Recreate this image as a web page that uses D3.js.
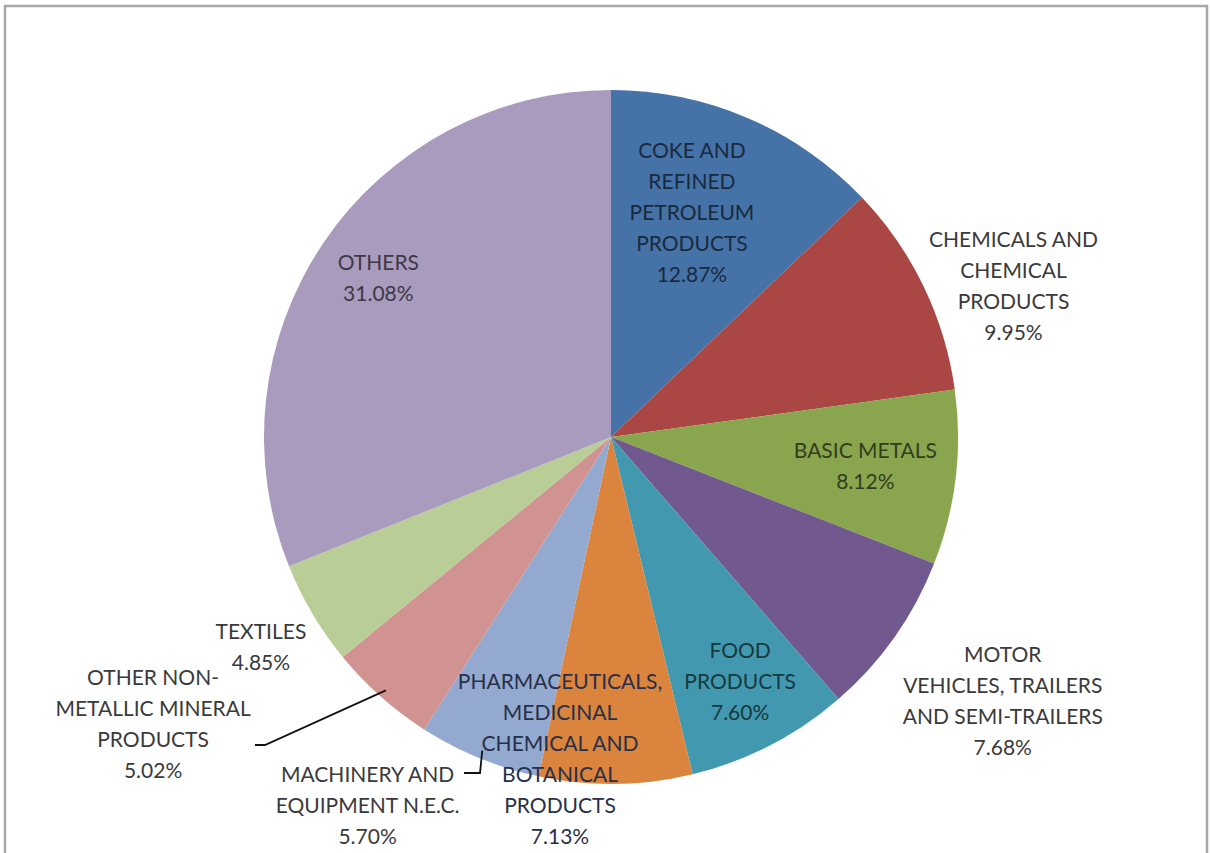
<!DOCTYPE html>
<html>
<head>
<meta charset="utf-8">
<script src="https://cdn.jsdelivr.net/npm/d3@7"></script>
<style>
  body { margin: 0; background: #fff; }
  text { font-family: Lato, "Open Sans", sans-serif; font-size: 21px; }
</style>
</head>
<body>
<aside></aside>
<script>
const width = 1210;
const height = 853;

// data, clockwise from 12 o'clock
const categories = [
    ['COKE AND', 'REFINED', 'PETROLEUM', 'PRODUCTS'],
    ['CHEMICALS AND', 'CHEMICAL', 'PRODUCTS'],
    ['BASIC METALS'],
    ['MOTOR', 'VEHICLES, TRAILERS', 'AND SEMI-TRAILERS'],
    ['FOOD', 'PRODUCTS'],
    ['PHARMACEUTICALS,', 'MEDICINAL', 'CHEMICAL AND', 'BOTANICAL', 'PRODUCTS'],
    ['MACHINERY AND', 'EQUIPMENT N.E.C.'],
    ['OTHER NON-', 'METALLIC MINERAL', 'PRODUCTS'],
    ['TEXTILES'],
    ['OTHERS']
];
const shares = [12.87, 9.95, 8.12, 7.68, 7.60, 7.13, 5.70, 5.02, 4.85, 31.08];
const colors = ['#4572A7', '#AA4643', '#89A54E', '#71588F', '#4198AF',
                '#DB843D', '#93A9CF', '#D19392', '#B9CD96', '#A99BBD'];

// label placement: [angle in degrees clockwise from top, distance from centre, inside?]
const labelPlace = [
    [19.8, 239, true], [69.4, 430, false], [96.4, 256, true], [123.9, 472, false],
    [152.1, 276, true], [189.0, 326, false], [213.5, 441, false], [238.0, 540, false],
    [239.1, 408, false], [304.4, 282, true]
];

const cx = 611, cy = 437, radius = 347, lineH = 31;

const svg = d3.select('aside')
    .append('svg')
    .attr('width', width)
    .attr('height', height);

svg.append('rect')
    .attr('x', 5).attr('y', 6)
    .attr('width', 1202).attr('height', 900)
    .attr('fill', '#fff')
    .attr('stroke', '#a8a8a8')
    .attr('stroke-width', 2.5);

const data = shares.map((v, i) => ({ value: v, lines: categories[i], color: colors[i], place: labelPlace[i] }));

const pie = d3.pie().sort(null).value(d => d.value);
const arc = d3.arc().innerRadius(0).outerRadius(radius);
const arcs = pie(data);

const g = svg.append('g').attr('transform', `translate(${cx},${cy})`);

g.selectAll('path')
    .data(arcs)
    .join('path')
    .attr('d', arc)
    .attr('fill', d => d.data.color);

// leader lines for the two small slices labelled outside
const leaders = [
    { i: 7, elbow: [-346, 308], end: [-356, 308] },
    { i: 6, elbow: [-131, 336], end: [-147, 336] }
];
const edge = d3.arc().innerRadius(radius - 8).outerRadius(radius - 8);
leaders.forEach(l => {
    const p = edge.centroid(arcs[l.i]);
    g.append('path')
        .attr('d', d3.line()([p, l.elbow, l.end]))
        .attr('fill', 'none')
        .attr('stroke', '#111')
        .attr('stroke-width', 1.8);
});

arcs.forEach((a, i) => {
    const [ang, r, inside] = a.data.place;
    const t = ang * Math.PI / 180;
    const x = r * Math.sin(t);
    const y = -r * Math.cos(t);
    const lines = a.data.lines.concat([a.data.value.toFixed(2) + '%']);
    const top = y - (lines.length - 1) * lineH / 2;
    const fill = inside ? d3.color(a.data.color).darker(2.8) : '#3a3a3a';
    const text = g.append('text')
        .attr('text-anchor', 'middle')
        .attr('fill', i === 5 ? '#27304a' : fill);
    lines.forEach((s, k) => {
        text.append('tspan')
            .attr('x', x)
            .attr('y', top + k * lineH + 8)
            .text(s);
    });
});
</script>
</body>
</html>
